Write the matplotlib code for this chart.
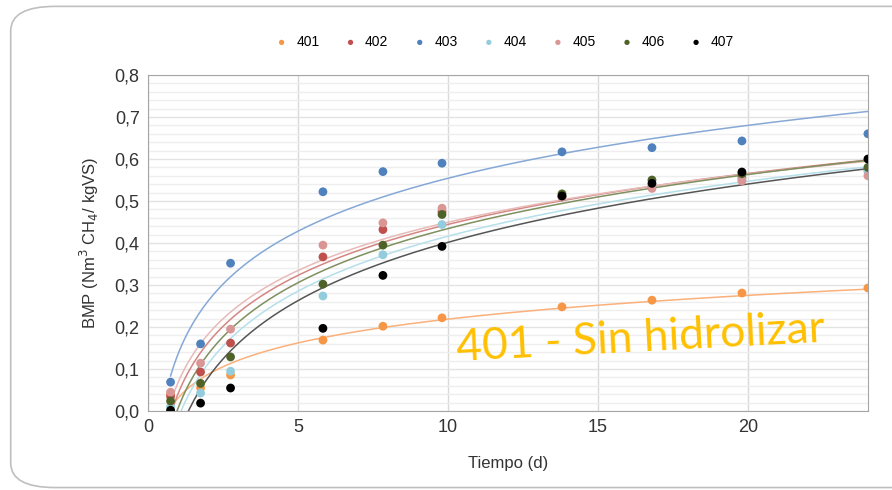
import numpy as np
import matplotlib
matplotlib.use("Agg")
import matplotlib.pyplot as plt
from matplotlib.ticker import FuncFormatter, MultipleLocator
from matplotlib.patches import FancyBboxPatch

plt.rcParams['font.family'] = ['Liberation Sans Narrow', 'Liberation Sans', 'DejaVu Sans']

# days of sampling
tiempo = [0.75, 1.75, 2.75, 5.83, 7.83, 9.8, 13.8, 16.8, 19.8, 24.0]

# BMP values (Nm3 CH4 / kgVS)
bmp_401 = [0.040, 0.055, 0.086, 0.169, 0.202, 0.222, 0.248, 0.264, 0.281, 0.293]
bmp_402 = [0.035, 0.093, 0.162, 0.367, 0.432, 0.475, 0.510, 0.535, 0.555, 0.575]
bmp_403 = [0.069, 0.160, 0.352, 0.522, 0.570, 0.590, 0.617, 0.627, 0.643, 0.660]
bmp_404 = [0.010, 0.043, 0.095, 0.274, 0.372, 0.444, 0.510, 0.535, 0.550, 0.570]
bmp_405 = [0.045, 0.114, 0.195, 0.395, 0.448, 0.483, 0.510, 0.530, 0.548, 0.560]
bmp_406 = [0.024, 0.066, 0.129, 0.302, 0.395, 0.468, 0.517, 0.550, 0.565, 0.580]
bmp_407 = [0.002, 0.019, 0.055, 0.197, 0.323, 0.392, 0.512, 0.542, 0.569, 0.600]

labels = ['401', '402', '403', '404', '405', '406', '407']
series = [bmp_401, bmp_402, bmp_403, bmp_404, bmp_405, bmp_406, bmp_407]
colors = ['#F79646', '#C0504D', '#4F81BD', '#93CDDD', '#D99694', '#4F6228', '#000000']
trend_colors = ['#FAB07A', '#D48683', '#86A8D6', '#B5DFEA', '#E8BAB8', '#7F8F5E', '#555555']

fig = plt.figure(figsize=(8.92, 4.9), dpi=100)
ax = fig.add_axes([0.166, 0.161, 0.807, 0.686])

x = np.array(tiempo)
xs = np.linspace(x.min(), x.max(), 300)
for lab, ys, c, tc in zip(labels, series, colors, trend_colors):
    # logarithmic trendline like excel
    a, b = np.polyfit(np.log(x), np.array(ys), 1)
    ax.plot(xs, a * np.log(xs) + b, color=tc, lw=1.1, zorder=2)
for lab, ys, c in zip(labels, series, colors):
    ax.scatter(x, ys, s=40, color=c, label=lab, zorder=3, edgecolors='none')

ax.set_xlim(0, 24)
ax.set_ylim(0, 0.8)
ax.xaxis.set_major_locator(MultipleLocator(5))
ax.yaxis.set_major_locator(MultipleLocator(0.1))
ax.yaxis.set_minor_locator(MultipleLocator(0.02))
ax.yaxis.set_major_formatter(FuncFormatter(lambda v, p: ('%.1f' % v).replace('.', ',')))
ax.grid(axis='x', which='major', color='#d9d9d9', lw=1)
ax.grid(axis='y', which='major', color='#e3e3e3', lw=1)
ax.grid(axis='y', which='minor', color='#eeeeee', lw=1)
ax.set_axisbelow(True)
ax.tick_params(which='both', length=0, labelsize=13, colors='#333333', pad=6)
for s in ax.spines.values():
    s.set_color('#a6a6a6')

ax.set_xlabel('Tiempo (d)', fontsize=12, color='#333333', labelpad=14)
ax.set_ylabel('BMP (Nm$^3$ CH$_4$/ kgVS)', fontsize=12, color='#333333', labelpad=10)

ax.legend(loc='lower center', bbox_to_anchor=(0.49, 1.04), ncol=7, frameon=False,
          fontsize=10, handletextpad=0.05, columnspacing=1.25, markerscale=0.6)

ax.text(0.427, 0.15, '401 - Sin hidrolizar', transform=ax.transAxes, color='#FFC000',
        fontsize=32, rotation=3, family=['Lato', 'DejaVu Sans'], zorder=5)

# rounded frame of the chart area
frame = FancyBboxPatch((0.012, 0.005), 1.05, 0.982, boxstyle='round,pad=0,rounding_size=0.05',
                       transform=fig.transFigure, fill=False, ec='#bfbfbf', lw=1.2)
fig.patches.append(frame)

fig.savefig('out.png', dpi=100)
